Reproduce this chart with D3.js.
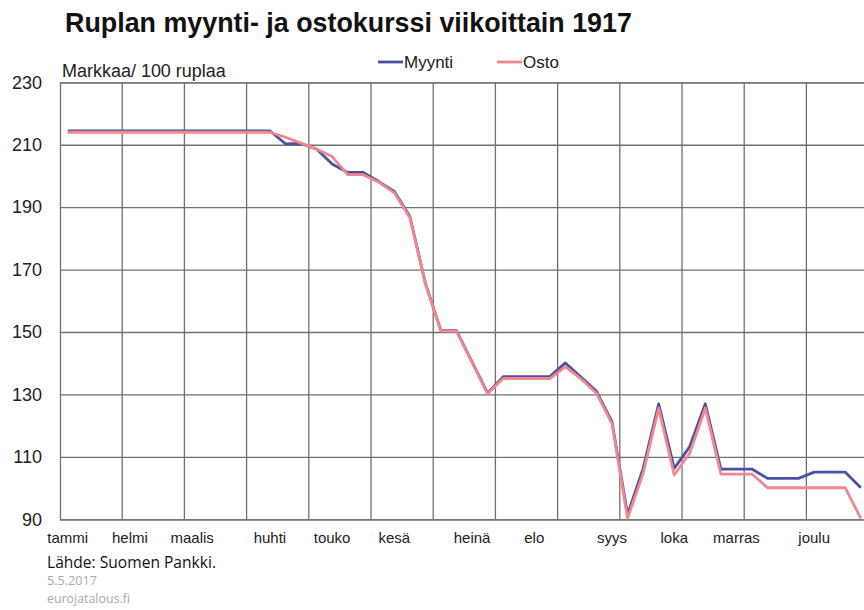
<!DOCTYPE html>
<html><head><meta charset="utf-8">
<script src="https://cdn.jsdelivr.net/npm/d3@7"></script>
<style>
body{margin:0;background:#fff;}
svg{display:block;}
</style></head>
<body>
<svg id="chart" width="864" height="610"></svg>
<script>
// ---- data ----
const title = "Ruplan myynti- ja ostokurssi viikoittain 1917";
const unitLabel = "Markkaa/ 100 ruplaa";
const seriesNames = ["Myynti", "Osto"];
const weeks = d3.range(52); // week index 0..51
const myynti = [214.4,214.4,214.4,214.4,214.4,214.4,214.4,214.4,214.4,214.4,214.4,214.4,214.4,214.4,
  210.3,210.4,208.6,203.8,201.1,201.1,198.2,195.0,187.0,165.6,150.4,150.4,140.4,130.4,
  135.7,135.7,135.7,135.7,140.1,135.6,131.0,121.2,91.5,106.3,127.0,106.3,113.3,127.0,
  106.1,106.1,106.1,103.1,103.1,103.1,105.1,105.1,105.1,100.1];
const osto = [214.0,214.0,214.0,214.0,214.0,214.0,214.0,214.0,214.0,214.0,214.0,214.0,214.0,214.0,
  212.4,210.5,208.6,206.2,200.4,200.4,198.0,194.6,186.6,165.4,150.3,150.3,140.2,130.2,
  135.1,135.1,135.1,135.1,138.9,135.0,130.4,120.6,90.3,104.7,125.6,104.2,111.2,125.6,
  104.5,104.5,104.5,100.1,100.1,100.1,100.1,100.1,100.1,90.3];
const monthLabels = ["tammi","helmi","maalis","huhti","touko","kesä","heinä","elo","syys","loka","marras","joulu"];
const monthWeeks = [0,4,8,13,17,21,26,30,35,39,43,48];
const yTicks = [90,110,130,150,170,190,210,230];
const gridEvery = 4;
const sourceText = "Lähde: Suomen Pankki.";
const dateText = "5.5.2017";
const siteText = "eurojatalous.fi";

// ---- layout ----
const svg = d3.select("#chart");
const L = 60, T = 82.3, B = 519.3, R = 60 + 52*15.55;
const x = d3.scaleBand().domain(weeks).range([L, R]).paddingInner(0).paddingOuter(0);
const xc = d => x(d) + x.bandwidth()/2;
const y = d3.scaleLinear().domain([90,230]).range([B, T]);
const gridColor = "#707070";
const font = "'Liberation Sans', Arial, sans-serif";

function fit(sel, w){
  const n = sel.node();
  const fs = parseFloat(sel.attr("font-size"));
  const len = n.getComputedTextLength();
  sel.attr("font-size", fs*w/len);
}

// title
const tt = svg.append("text").attr("x",65).attr("y",32).attr("font-family",font)
  .attr("font-weight","bold").attr("font-size",24).attr("fill","#111").text(title);
fit(tt, 567);

// unit label
const ul = svg.append("text").attr("x",62).attr("y",77).attr("font-family",font)
  .attr("font-size",17).attr("fill","#222").text(unitLabel);
fit(ul, 164);

// grid
const g = svg.append("g");
// horizontal grid via axis
const yAxis = d3.axisLeft(y).tickValues(yTicks).tickSize(-(R-L)).tickFormat(d3.format("d")).tickPadding(18);
const ya = g.append("g").attr("transform",`translate(${L},0)`).call(yAxis);
ya.select(".domain").attr("stroke",gridColor).attr("stroke-width",1.3);
ya.selectAll(".tick line").attr("stroke",gridColor).attr("stroke-width",1.3);
ya.selectAll(".tick text").attr("font-family",font).attr("font-size",18).attr("fill","#222");

// vertical grid lines at every 4th week boundary
const vWeeks = weeks.filter(w => w % gridEvery === 0 && w > 0);
g.selectAll("line.vg").data(vWeeks).join("line").attr("class","vg")
  .attr("x1", d => x(d)).attr("x2", d => x(d)).attr("y1",T).attr("y2",B)
  .attr("stroke",gridColor).attr("stroke-width",1.3);

// month labels
g.selectAll("text.m").data(monthLabels).join("text").attr("class","m")
  .attr("x",(d,i)=>xc(monthWeeks[i])).attr("y",543).attr("text-anchor","middle")
  .attr("font-family",font).attr("font-size",15).attr("fill","#222").text(d=>d);

// lines
const line = d3.line().x((d,i)=>xc(weeks[i])).y(d=>y(d));
svg.append("path").datum(myynti).attr("d",line).attr("fill","none")
  .attr("stroke","#4b52a3").attr("stroke-width",2.8).attr("stroke-linejoin","round");
svg.append("path").datum(osto).attr("d",line).attr("fill","none")
  .attr("stroke","#f4868d").attr("stroke-width",2.8).attr("stroke-linejoin","round");

// legend
const legX = [378, 497];
const legCol = ["#4b52a3","#f4868d"];
seriesNames.forEach((n,i)=>{
  svg.append("line").attr("x1",legX[i]).attr("x2",legX[i]+25).attr("y1",62).attr("y2",62)
    .attr("stroke",legCol[i]).attr("stroke-width",2.8);
  svg.append("text").attr("x",legX[i]+26).attr("y",68).attr("font-family",font)
    .attr("font-size",17).attr("fill","#222").text(n);
});

// source
const s1 = svg.append("text").attr("x",47).attr("y",568).attr("font-family","'Open Sans', sans-serif")
  .attr("font-size",15).attr("fill","#111").text(sourceText);
fit(s1, 169);
const s2 = svg.append("text").attr("x",47).attr("y",585).attr("font-family","'Open Sans', sans-serif")
  .attr("font-size",12).attr("fill","#aaa").text(dateText);
fit(s2, 50);
const s3 = svg.append("text").attr("x",47).attr("y",603).attr("font-family","'Open Sans', sans-serif")
  .attr("font-size",12).attr("fill","#aaa").text(siteText);
fit(s3, 83);
</script>
</body></html>
